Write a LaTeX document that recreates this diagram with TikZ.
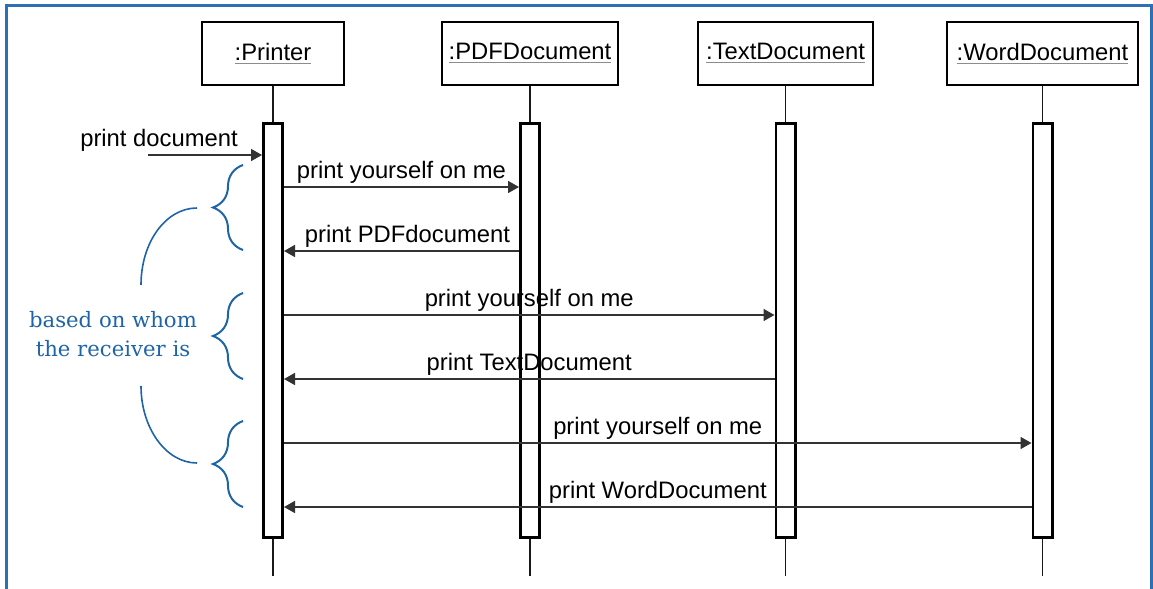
\documentclass[tikz,border=0pt]{standalone}
\usepackage{fontspec}
\usepackage{xcolor}
\usepackage{tikz}
\usetikzlibrary{positioning,arrows.meta,decorations.pathreplacing}

\newfontfamily\umlfont{Liberation Sans}
\newfontfamily\notefont{DejaVu Serif}
\definecolor{noteblue}{RGB}{30,100,168}
\definecolor{frameblue}{RGB}{45,112,180}
\newcommand{\objname}[1]{{\color{black!45}\underline{\color{black}#1}}}

\begin{document}
\begin{tikzpicture}[
        x=0.5pt, y=-0.5pt,
        objbox/.style={
            draw,
            line width=1.2pt,
            minimum height=31.3pt,
            inner sep=0pt,
            font=\umlfont\fontsize{11.9}{14}\selectfont
        },
        actbar/.style={
            draw,
            line width=1.3pt,
            minimum width=9.7pt,
            minimum height=207pt,
            inner sep=0pt
        },
        lifeline/.style={line width=0.7pt, draw=black!90},
        msg/.style={-{Triangle[length=5.5pt,width=6pt]}, line width=0.8pt, draw=black!80},
        msglabel/.style={inner sep=1.5pt, font=\umlfont\fontsize{11.9}{14}\selectfont},
        note/.style={align=center, text=noteblue, inner sep=0pt,
            font=\notefont\fontsize{10.6}{14.5}\selectfont},
        notebrace/.style={draw=noteblue, line width=1pt, decorate,
            decoration={brace, amplitude=15pt}},
        notecurve/.style={draw=noteblue, line width=0.8pt}
    ]
        \useasboundingbox (0,0) rectangle (1153,589);
        \draw[frameblue, line width=1.5pt] (6,589) |- (1151.5,5.5) -- (1151.5,589);

        % objects
        \node[objbox, minimum width=70.8pt] (printer) at (273,53.5) {\objname{:Printer}};
        \node[objbox, minimum width=87.8pt] (pdfdoc) at (530,53.5) {\objname{:PDFDocument}};
        \node[objbox, minimum width=87.3pt] (textdoc) at (785.5,53.5) {\objname{:TextDocument}};
        \node[objbox, minimum width=95.3pt] (worddoc) at (1042.5,53.5) {\objname{:WordDocument}};

        % activations
        \node[actbar, below=18pt of printer] (printerbar) {};
        \node[actbar, below=18pt of pdfdoc] (pdfbar) {};
        \node[actbar, below=18pt of textdoc] (textbar) {};
        \node[actbar, below=18pt of worddoc] (wordbar) {};

        \draw[lifeline] (printer) -- (printerbar);
        \draw[lifeline] (pdfdoc) -- (pdfbar);
        \draw[lifeline] (textdoc) -- (textbar);
        \draw[lifeline] (worddoc) -- (wordbar);
        \draw[lifeline] (printerbar.south) -- ++(0,37);
        \draw[lifeline] (pdfbar.south) -- ++(0,37);
        \draw[lifeline] (textbar.south) -- ++(0,37);
        \draw[lifeline] (wordbar.south) -- ++(0,37);

        % messages
        \coordinate (docstart) at (148,155);
        \coordinate (r1) at (0,187);
        \coordinate (r2) at (0,251);
        \coordinate (r3) at (0,315);
        \coordinate (r4) at (0,379);
        \coordinate (r5) at (0,443);
        \coordinate (r6) at (0,507);

        \draw[msg] (docstart) -- (printerbar.west |- docstart);
        \node[msglabel, anchor=south] (doclabel) at (159,155) {print document};

        \draw[msg] (printerbar.east |- r1) -- (pdfbar.west |- r1)
            node[msglabel, midway, above] {print yourself on me};
        \draw[msg] (pdfbar.west |- r2) -- (printerbar.east |- r2)
            node[msglabel, midway, above, xshift=3pt] {print PDFdocument};
        \draw[msg] (printerbar.east |- r3) -- (textbar.west |- r3)
            node[msglabel, midway, above] {print yourself on me};
        \draw[msg] (textbar.west |- r4) -- (printerbar.east |- r4)
            node[msglabel, midway, above] {print TextDocument};
        \draw[msg] (printerbar.east |- r5) -- (wordbar.west |- r5)
            node[msglabel, midway, above] {print yourself on me};
        \draw[msg] (wordbar.west |- r6) -- (printerbar.east |- r6)
            node[msglabel, midway, above] {print WordDocument};

        % note on the left
        \node[note] (receiver) at (113,334) {based on whom\\the receiver is};

        \coordinate (b1top) at (243,165);
        \coordinate (b1bot) at (243,250);
        \coordinate (b2top) at (243,293);
        \coordinate (b2bot) at (243,379);
        \coordinate (b3top) at (243,421);
        \coordinate (b3bot) at (243,507);
        \draw[notebrace] (b1bot) -- (b1top);
        \draw[notebrace] (b2bot) -- (b2top);
        \draw[notebrace] (b3bot) -- (b3top);

        \coordinate (upfrom) at (197,208);
        \coordinate (upto) at (141,285);
        \coordinate (lowfrom) at (141,386);
        \coordinate (lowto) at (197,463);
        \draw[notecurve] (upfrom) .. controls (166,208) and (141,242) .. (upto);
        \draw[notecurve] (lowfrom) .. controls (141,428) and (166,463) .. (lowto);
    \end{tikzpicture}
\end{document}
